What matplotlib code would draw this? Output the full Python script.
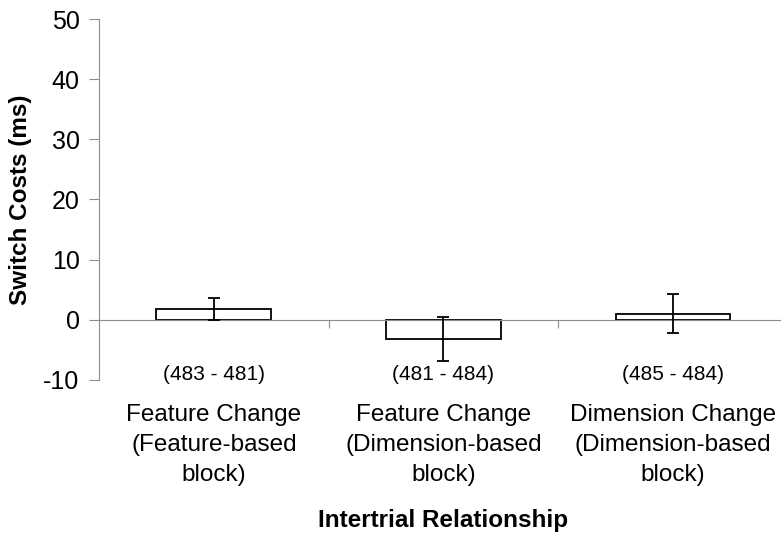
import numpy as np
import matplotlib
matplotlib.use("Agg")
import matplotlib.pyplot as plt

# switch costs per intertrial condition (ms), with error bar half-widths
conditions = ["Feature Change\n(Feature-based\nblock)",
              "Feature Change\n(Dimension-based\nblock)",
              "Dimension Change\n(Dimension-based\nblock)"]
rt_pairs = ["(483 - 481)", "(481 - 484)", "(485 - 484)"]
switch_costs = [1.75, -3.2, 1.05]
errors = [1.85, 3.6, 3.2]

plt.rcParams['font.family'] = ['Liberation Sans', 'DejaVu Sans']
plt.rcParams['axes.unicode_minus'] = False
axis_grey = '#8c8c8c'

fig = plt.figure(figsize=(7.81, 5.37), dpi=100)
ax = fig.add_axes([0.1268, 0.2924, 0.8732, 0.6722])

x = np.arange(len(conditions))
ax.bar(x, switch_costs, width=0.5, color='white', edgecolor='black',
       linewidth=1.3, zorder=2)
ax.errorbar(x, switch_costs, yerr=errors, fmt='none', ecolor='black',
            elinewidth=1.3, capsize=4, capthick=1.3, zorder=3)

ax.set_xlim(-0.5, 2.47)
ax.set_ylim(-10, 50)
ax.set_yticks(np.arange(-10, 51, 10))

# x axis runs along zero, ticks mark the category boundaries
ax.spines['bottom'].set_position(('data', 0))
ax.spines['bottom'].set_color(axis_grey)
ax.spines['left'].set_color(axis_grey)
ax.spines['top'].set_visible(False)
ax.spines['right'].set_visible(False)
ax.set_xticks([0.5, 1.5])
ax.set_xticklabels([])
ax.tick_params(axis='x', direction='out', length=6, color=axis_grey)
ax.tick_params(axis='y', direction='out', length=7, color=axis_grey,
               labelsize=18, pad=7)

for i in x:
    ax.annotate(rt_pairs[i], xy=(i, 0), xycoords=('data', 'axes fraction'),
                xytext=(0, 4), textcoords='offset points',
                ha='center', va='center', fontsize=15)
    ax.annotate(conditions[i], xy=(i, 0), xycoords=('data', 'axes fraction'),
                xytext=(0, -17), textcoords='offset points',
                ha='center', va='top', fontsize=17.5, linespacing=1.48)

ax.annotate('Intertrial Relationship', xy=(1, 0),
            xycoords=('data', 'axes fraction'), xytext=(0, -93),
            textcoords='offset points', ha='center', va='top',
            fontsize=17.5, fontweight='bold')
ax.set_ylabel('Switch Costs (ms)', fontsize=17.5, fontweight='bold',
              labelpad=8)

fig.savefig('out.png', dpi=100, facecolor='white')
